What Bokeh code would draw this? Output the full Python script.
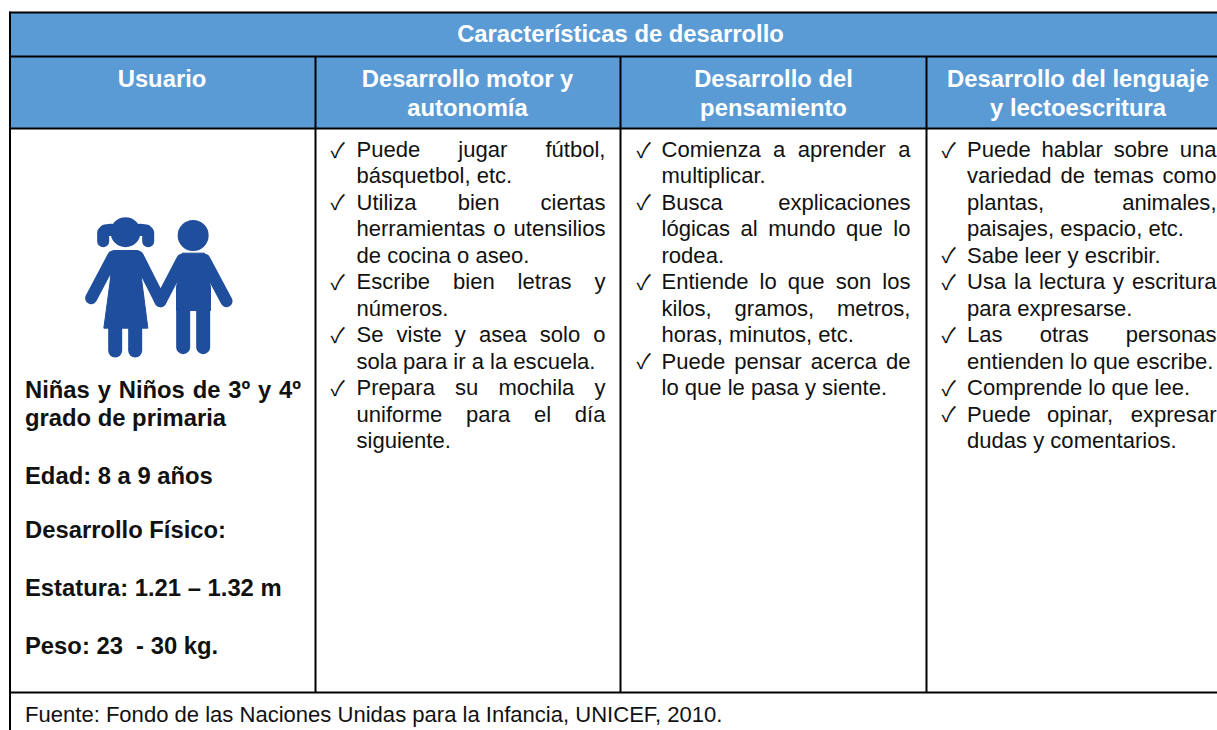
from bokeh.plotting import figure
from bokeh.models import Range1d
from bokeh.core.properties import value
from bokeh.embed import file_html
from bokeh.resources import INLINE

# ---------- content ----------
title = "Características de desarrollo"
user_header = ["Usuario"]
motor_header = ["Desarrollo motor y", "autonomía"]
thought_header = ["Desarrollo del", "pensamiento"]
language_header = ["Desarrollo del lenguaje", "y lectoescritura"]

motor_items = [
    ["Puede jugar fútbol,", "básquetbol, etc."],
    ["Utiliza bien ciertas", "herramientas o utensilios", "de cocina o aseo."],
    ["Escribe bien letras y", "números."],
    ["Se viste y asea solo o", "sola para ir a la escuela."],
    ["Prepara su mochila y", "uniforme para el día", "siguiente."],
]
thought_items = [
    ["Comienza a aprender a", "multiplicar."],
    ["Busca explicaciones", "lógicas al mundo que lo", "rodea."],
    ["Entiende lo que son los", "kilos, gramos, metros,", "horas, minutos, etc."],
    ["Puede pensar acerca de", "lo que le pasa y siente."],
]
language_items = [
    ["Puede hablar sobre una", "variedad de temas como", "plantas, animales,", "paisajes, espacio, etc."],
    ["Sabe leer y escribir."],
    ["Usa la lectura y escritura", "para expresarse."],
    ["Las otras personas", "entienden lo que escribe."],
    ["Comprende lo que lee."],
    ["Puede opinar, expresar", "dudas y comentarios."],
]
user_lines = [
    "Niñas y Niños de 3º y 4º",
    "grado de primaria",
    "Edad: 8 a 9 años",
    "Desarrollo Físico:",
    "Estatura: 1.21 – 1.32 m",
    "Peso: 23  - 30 kg.",
]
source = "Fuente: Fondo de las Naciones Unidas para la Infancia, UNICEF, 2010."

# ---------- helpers ----------
FONT = "Liberation Sans"
BLUE = "#5B9BD5"
NAVY = "#1F4E9C"
FS = 22.05
FB = 23.8
LH = 26.45

W = {" ":278,",":278,".":278,"a":556,"á":556,"b":556,"c":500,"d":556,"e":556,"f":278,"g":556,
     "h":556,"i":222,"í":278,"j":222,"k":500,"l":222,"m":833,"n":556,"o":556,"ó":556,"p":556,
     "q":556,"r":333,"s":500,"t":278,"u":556,"ú":556,"v":500,"w":722,"x":500,"y":500,"z":500,
     "B":667,"C":722,"E":667,"L":556,"P":667,"S":667,"U":722}
WB = {"N":722,"i":278,"ñ":611,"a":556,"s":556,"y":556,"o":611,"d":611,"e":556,"3":556,"4":556,"º":365}

def tw(s, table=W, size=FS):
    return sum(table.get(c, 556) for c in s) * size / 1000

p = figure(width=1217, height=730, x_range=Range1d(0, 1217), y_range=Range1d(730, 0),
           output_backend="svg", toolbar_location=None, min_border=0,
           x_axis_type=None, y_axis_type=None, background_fill_color="white",
           border_fill_color="white", outline_line_color=None)
p.grid.visible = False

def put(x, y, s, size=FS, color="#111111", style="normal", align="left", font=FONT):
    p.text([x], [y], text=[s.replace("  ", " \u00a0")], text_font=value(font), text_font_size=f"{size}px",
           text_color=color, text_font_style=style, text_align=align, text_baseline="middle")

def justified(x0, x1, y, line, table=W, size=FS, style="normal"):
    words = line.split()
    gap = (x1 - x0 - sum(tw(w, table, size) for w in words)) / (len(words) - 1)
    x = x0
    for w in words:
        put(x, y, w, size=size, style=style)
        x += tw(w, table, size) + gap

def column(items, check_x, x0, x1, y0):
    y = y0
    for item in items:
        put(check_x, y - 1, "✓", size=21, font="Noto Sans CJK JP")
        for i, line in enumerate(item):
            if i < len(item) - 1 and len(line.split()) > 1:
                justified(x0, x1, y, line)
            else:
                put(x0, y, line)
            y += LH

# ---------- header fill ----------
p.quad(left=[9], right=[1217], top=[12], bottom=[128], fill_color=BLUE, line_color=None)

# ---------- icon (traced, zoom coords -> page) ----------
def X(v): return [60 + a / 3 for a in v]
def Y(v): return [200 + a / 3 for a in v]

def limb(xs, ys, w):
    p.line(X(xs), Y(ys), line_color=NAVY, line_width=w, line_cap="round", line_join="round")

def shape(xs, ys):
    p.patch(X(xs), Y(ys), fill_color=NAVY, line_color=NAVY, line_width=1, line_join="round")

# girl
limb([128, 128, 134, 152], [122, 96, 90, 88], 12)
limb([263, 263, 257, 238], [122, 96, 90, 88], 12)
p.scatter(X([195]), Y([95]), size=30, marker="circle", fill_color=NAVY, line_color=None)
shape([158, 232, 245, 262, 130, 148], [150, 150, 250, 383, 383, 250])
limb([158, 92], [168, 293], 12)
limb([232, 300], [168, 302], 12)
limb([164, 164], [380, 450], 14)
limb([224, 224], [380, 450], 14)
# boy
p.scatter(X([398]), Y([105]), size=31, marker="circle", fill_color=NAVY, line_color=None)
shape([365, 432, 450, 450, 408, 388, 348, 348], [158, 158, 260, 330, 330, 330, 330, 260])
limb([365, 300], [178, 302], 12)
limb([432, 498], [178, 302], 12)
limb([368, 368], [330, 440], 14)
limb([428, 428], [330, 440], 14)

# ---------- rules ----------
LC = "#000000"
for y in (12, 56, 128, 692):
    p.line([9, 1217], [y, y], line_color=LC, line_width=2)
p.line([9.5, 9.5], [11, 730], line_color=LC, line_width=2)
for x in (315, 620, 926):
    p.line([x, x], [56, 692], line_color=LC, line_width=2)

# ---------- header text ----------
put(620, 32.5, title, style="bold", color="white", align="center", size=FB)
for cx, lines in [(161.5, user_header), (467, motor_header), (773, thought_header), (1077.5, language_header)]:
    for i, line in enumerate(lines):
        put(cx, 78 + i * 28.5, line, style="bold", color="white", align="center", size=FB)

# ---------- body ----------
column(motor_items, 330, 356, 605, 149)
column(thought_items, 636, 661, 910, 149)
column(language_items, 941, 966.5, 1216, 149)

# left column
ys = [389, 417, 475, 529, 587, 645]
for i, (y, line) in enumerate(zip(ys, user_lines)):
    if i == 0:
        justified(24.5, 300.5, y, line, WB, FB, "bold")
    else:
        put(24.5, y, line, style="bold", size=FB)

put(24.5, 714, source)

open("out.html", "w").write(file_html(p, INLINE))
